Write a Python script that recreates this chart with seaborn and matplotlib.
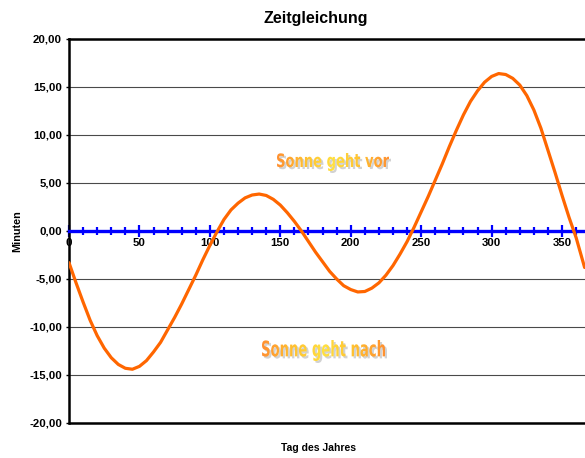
import numpy as np
import pandas as pd
import matplotlib
matplotlib.use('Agg')
import matplotlib.pyplot as plt
import seaborn as sns
from matplotlib.textpath import TextPath
from matplotlib.font_manager import FontProperties
from matplotlib.patches import PathPatch
from matplotlib.transforms import Affine2D
from matplotlib.ticker import FuncFormatter, MultipleLocator

# Zeitgleichung: values
days = [0, 5, 10, 15, 20, 25, 30, 35, 40, 45, 50, 55, 60, 65, 70, 75, 80, 85,
        90, 95, 100, 105, 110, 115, 120, 125, 130, 135, 140, 145, 150, 155,
        160, 165, 170, 175, 180, 185, 190, 195, 200, 205, 210, 215, 220, 225,
        230, 235, 240, 245, 250, 255, 260, 265, 270, 275, 280, 285, 290, 295,
        300, 305, 310, 315, 320, 325, 330, 335, 340, 345, 350, 355, 360, 366]
minutes = [-3.3, -5.4, -7.4, -9.3, -10.9, -12.2, -13.2, -13.9, -14.3, -14.4,
           -14.1, -13.5, -12.6, -11.6, -10.3, -9.0, -7.6, -6.1, -4.6, -3.0,
           -1.5, -0.1, 1.2, 2.2, 2.9, 3.45, 3.75, 3.85, 3.7, 3.3, 2.7, 1.9,
           1.0, 0.0, -1.1, -2.2, -3.2, -4.2, -5.0, -5.7, -6.1, -6.35, -6.3,
           -5.95, -5.4, -4.6, -3.6, -2.4, -1.1, 0.4, 2.0, 3.6, 5.3, 7.0, 8.8,
           10.5, 12.1, 13.5, 14.6, 15.5, 16.1, 16.4, 16.3, 15.9, 15.2, 14.1,
           12.6, 10.7, 8.4, 6.1, 3.7, 1.4, -0.7, -3.8]

title = 'Zeitgleichung'
x_label = 'Tag des Jahres'
y_label = 'Minuten'
note_top = 'Sonne geht vor'
note_bottom = 'Sonne geht nach'

W, H = 585, 458

sns.set_style('white')
plt.rcParams['font.family'] = ['Liberation Sans', 'DejaVu Sans']
plt.rcParams['text.color'] = 'black'
plt.rcParams['xtick.color'] = 'black'
plt.rcParams['ytick.color'] = 'black'

df = pd.DataFrame({'Tag': days, 'Minuten': minutes})

fig = plt.figure(figsize=(W / 100, H / 100), dpi=100)
ax = fig.add_axes([69 / W, 1 - 423 / H, (W + 2 - 69) / W, 384 / H])

sns.lineplot(data=df, x='Tag', y='Minuten', ax=ax, color='#FF6600',
             linewidth=2.3, zorder=4)

ax.set_xlim(0, 367.7)
ax.set_ylim(-20, 20)
ax.set_xlabel('')
ax.set_ylabel('')

# y axis
ax.yaxis.set_major_locator(MultipleLocator(5))
ax.yaxis.set_major_formatter(FuncFormatter(lambda v, p: f'{v:.2f}'.replace('.', ',')))
ax.tick_params(axis='y', length=2.5, width=1, color='black', pad=2.5,
               labelsize=8.2, left=True, labelcolor='black')
for lab in ax.get_yticklabels():
    lab.set_fontweight('bold')
ax.yaxis.grid(True, color='#4a4a4a', linewidth=0.8)
ax.xaxis.grid(False)

# x axis at y = 0 in blue
ax.spines['bottom'].set_position(('data', 0))
ax.spines['bottom'].set_color('#0000FF')
ax.spines['bottom'].set_linewidth(2.4)
ax.spines['bottom'].set_zorder(3)
ax.xaxis.set_major_locator(MultipleLocator(50))
ax.xaxis.set_minor_locator(MultipleLocator(10))
ax.tick_params(axis='x', which='major', direction='inout', length=8.5,
               width=1.6, color='#0000FF', pad=1, labelsize=8.2,
               bottom=True, labelcolor='black')
ax.tick_params(axis='x', which='minor', direction='inout', length=5.5,
               width=1.6, color='#0000FF', bottom=True)
for lab in ax.get_xticklabels():
    lab.set_fontweight('bold')

for side in ['top', 'left']:
    ax.spines[side].set_color('black')
    ax.spines[side].set_linewidth(1.8)
ax.spines['right'].set_visible(False)
ax.axhline(-20, color='black', linewidth=1.8, clip_on=False, zorder=5)

# titles
fig.text(316 / W, 1 - 23 / H, title, ha='center', va='baseline',
         fontsize=11.5, fontweight='bold', color='black')
fig.text(319 / W, 1 - 451 / H, x_label, ha='center', va='baseline',
         fontsize=7.5, fontweight='bold', color='black')
fig.text(17.5 / W, 1 - 231 / H, y_label, ha='center', va='center',
         rotation=90, fontsize=7.8, fontweight='bold', color='black')


def word_art(text, x0, y0, x1, y1):
    # gradient filled, condensed text with a gray shadow (pixel box)
    tax = fig.add_axes([x0 / W, 1 - y1 / H, (x1 - x0) / W, (y1 - y0) / H])
    tax.set_xlim(0, 1)
    tax.set_ylim(0, 1)
    tax.axis('off')
    tp = TextPath((0, 0), text, size=10,
                  prop=FontProperties(family='DejaVu Sans', weight='bold'))
    bb = tp.get_extents()
    tr = (Affine2D().translate(-bb.x0, -bb.y0)
          .scale(1 / bb.width, 1 / bb.height) + tax.transAxes)
    shadow = PathPatch(tp, transform=tr + Affine2D().translate(2, -2),
                       facecolor='#d2d2d2', edgecolor='none', clip_on=False)
    tax.add_patch(shadow)
    clip = PathPatch(tp, transform=tr, facecolor='none', edgecolor='none')
    tax.add_patch(clip)
    grad = np.linspace(0, 1, 256)
    grad = 1 - np.abs(grad - 0.5) * 2
    cmap = matplotlib.colors.LinearSegmentedColormap.from_list(
        'wa', ['#FF9030', '#FFC030', '#FFE040'])
    im = tax.imshow(grad[np.newaxis, :], extent=[0, 1, 0, 1], aspect='auto',
                    cmap=cmap, zorder=2)
    im.set_clip_path(clip)


word_art(note_top, 277, 153, 389, 171)
word_art(note_bottom, 262, 340, 385, 361)

fig.savefig('out.png', dpi=100)
